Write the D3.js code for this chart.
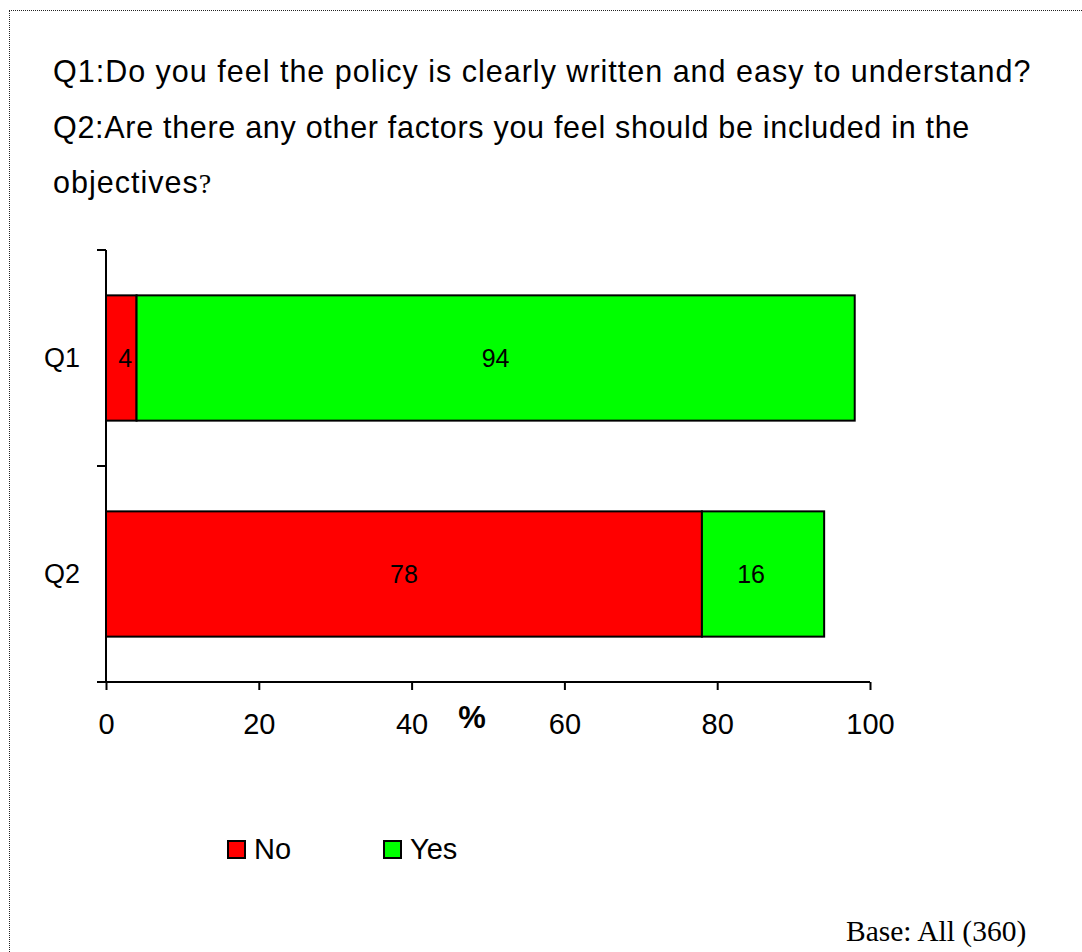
<!DOCTYPE html>
<html>
<head>
<meta charset="utf-8">
<script src="https://cdn.jsdelivr.net/npm/d3@7"></script>
<style>
  body { margin: 0; background: #fff; }
</style>
</head>
<body>
<div id="chart"></div>
<script>
var categories = ["Q1", "Q2"];
var seriesNames = ["No", "Yes"];
var noValues = [4, 78];
var yesValues = [94, 16];
var xTicks = [0, 20, 40, 60, 80, 100];
var titleLines = [
  "Q1:Do you feel the policy is clearly written and easy to understand?",
  "Q2:Are there any other factors you feel should be included in the",
  "objectives"
];

var ColorNo = "#ff0000";
var ColorYes = "#00ff00";

var width = 1082, height = 952;

var svg = d3.select("#chart").append("svg")
  .attr("width", width)
  .attr("height", height)
  .style("font-family", "'Liberation Sans', Arial, sans-serif");

// dotted frame
svg.append("rect")
  .attr("x", 9).attr("y", 10)
  .attr("width", 1090).attr("height", 1000)
  .attr("fill", "none")
  .attr("stroke", "#222")
  .attr("stroke-width", 1)
  .attr("shape-rendering", "crispEdges")
  .attr("stroke-dasharray", "1,1");

// title
var titleY = [82, 138, 193];
var title = svg.append("g");
titleLines.forEach(function(t, i) {
  var tx = title.append("text")
    .attr("x", 53)
    .attr("y", titleY[i])
    .attr("font-size", 30.5)
    .attr("letter-spacing", i == 1 ? 0.7 : 1)
    .attr("fill", "#000")
    .text(t);
  if (i == 2) {
    tx.append("tspan")
      .attr("font-family", "'Liberation Serif', 'Times New Roman', serif")
      .attr("font-size", 28)
      .text("?");
  }
});

var x = d3.scaleLinear().domain([0, 100]).range([106, 870]);
var y = d3.scaleBand().domain(categories).range([250, 682]).paddingInner(0.42).paddingOuter(0.21);

var rows = categories.map(function(c, i) {
  return { cat: c, no: noValues[i], yes: yesValues[i] };
});
var stacked = d3.stack().keys(["no", "yes"])(rows);
var colors = d3.scaleOrdinal().domain(["no", "yes"]).range([ColorNo, ColorYes]);

var layers = svg.selectAll(".layer")
  .data(stacked)
  .enter().append("g")
  .attr("class", "layer")
  .attr("fill", function(d) { return colors(d.key); });

layers.selectAll("rect")
  .data(function(d) { return d; })
  .enter().append("rect")
  .attr("x", function(d) { return x(d[0]); })
  .attr("y", function(d) { return y(d.data.cat); })
  .attr("width", function(d) { return x(d[1]) - x(d[0]); })
  .attr("height", y.bandwidth())
  .attr("stroke", "#000")
  .attr("stroke-width", 2);

layers.selectAll("text")
  .data(function(d) { return d; })
  .enter().append("text")
  .attr("x", function(d) {
    var w = d[1] - d[0];
    return (x(d[0]) + x(d[1])) / 2 + (w < 10 ? 4 : (w < 20 ? -12 : 0));
  })
  .attr("y", function(d) { return y(d.data.cat) + y.bandwidth() / 2 + 9; })
  .attr("text-anchor", "middle")
  .attr("font-size", 25)
  .attr("fill", "#000")
  .text(function(d) { return d[1] - d[0]; });

// x axis
var xAxis = svg.append("g")
  .attr("transform", "translate(0,682)")
  .call(d3.axisBottom(x).tickValues(xTicks).tickSize(8).tickSizeOuter(0));
xAxis.select(".domain").remove();
xAxis.append("line")
  .attr("x1", 97).attr("x2", 870)
  .attr("stroke", "#000").attr("stroke-width", 2);
xAxis.selectAll(".tick line").attr("stroke-width", 2);
xAxis.selectAll(".tick text")
  .attr("font-size", 29)
  .attr("font-family", "'Liberation Sans', Arial, sans-serif")
  .attr("fill", "#000")
  .attr("dy", 0)
  .attr("y", 52);

svg.append("text")
  .attr("x", 472).attr("y", 728)
  .attr("text-anchor", "middle")
  .attr("font-size", 31)
  .attr("font-weight", "bold")
  .text("%");

// y axis with ticks at band edges
var yEdges = d3.scaleLinear().domain([0, 2]).range([250, 682]);
var yAxis = svg.append("g").attr("transform", "translate(106,0)");
yAxis.append("line")
  .attr("y1", 250).attr("y2", 682)
  .attr("stroke", "#000").attr("stroke-width", 2);
yAxis.selectAll(".edge")
  .data([0, 1, 2])
  .enter().append("line")
  .attr("class", "edge")
  .attr("x1", -9).attr("x2", 0)
  .attr("y1", function(d) { return yEdges(d); })
  .attr("y2", function(d) { return yEdges(d); })
  .attr("stroke", "#000").attr("stroke-width", 2);
yAxis.selectAll(".cat")
  .data(categories)
  .enter().append("text")
  .attr("class", "cat")
  .attr("x", -26)
  .attr("y", function(d) { return y(d) + y.bandwidth() / 2 + 9; })
  .attr("text-anchor", "end")
  .attr("font-size", 27)
  .text(function(d) { return d; });

// legend
var legend = svg.selectAll(".legend")
  .data(seriesNames)
  .enter().append("g")
  .attr("class", "legend")
  .attr("transform", function(d, i) { return "translate(" + (228 + i * 156) + ",841)"; });
legend.append("rect")
  .attr("width", 17).attr("height", 17)
  .attr("fill", function(d, i) { return i == 0 ? ColorNo : ColorYes; })
  .attr("stroke", "#000").attr("stroke-width", 2);
legend.append("text")
  .attr("x", 26).attr("y", 18)
  .attr("font-size", 29)
  .text(function(d) { return d; });

svg.append("text")
  .attr("x", 846).attr("y", 941)
  .attr("font-family", "'Liberation Serif', 'Times New Roman', serif")
  .attr("font-size", 29.5)
  .text("Base: All (360)");
</script>
</body>
</html>
